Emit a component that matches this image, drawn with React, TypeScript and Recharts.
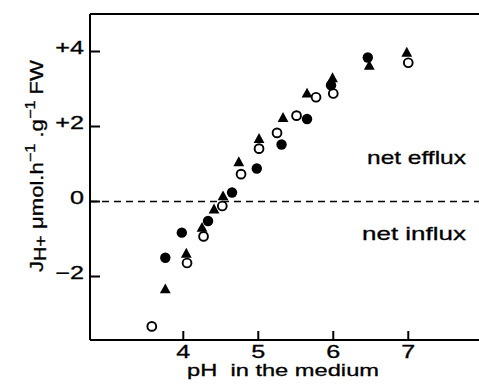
import React from 'react';
import { ScatterChart, Scatter, XAxis, YAxis, ReferenceLine } from 'recharts';

const filledPH = [3.76, 3.98, 4.33, 4.65, 4.98, 5.31, 5.65, 5.97, 6.46];
const filledJ = [-1.5, -0.83, -0.52, 0.24, 0.88, 1.52, 2.2, 3.1, 3.84];

const trianglePH = [3.76, 4.04, 4.25, 4.41, 4.53, 4.74, 5.01, 5.33, 5.65, 5.99, 6.48, 6.98];
const triangleJ = [-2.34, -1.39, -0.7, -0.21, 0.14, 1.05, 1.67, 2.23, 2.88, 3.29, 3.62, 3.97];

const openPH = [3.58, 4.05, 4.27, 4.52, 4.77, 5.01, 5.25, 5.51, 5.77, 6.0, 7.0];
const openJ = [-3.33, -1.64, -0.93, -0.12, 0.73, 1.41, 1.83, 2.29, 2.78, 2.88, 3.7];

const xTicks = [4, 5, 6, 7];
const yTicks = [-2, 0, 2, 4];
const yTickLabels: Record<string, string> = { '-2': '\u22122', '0': '0', '2': '+2', '4': '+4' };

const FONT = '"Liberation Sans", Arial, Helvetica, sans-serif';
const TEXT_STROKE = { stroke: '#000', strokeWidth: 0.3 };

const filledData = filledPH.map((x, i) => ({ x, y: filledJ[i] }));
const triangleData = trianglePH.map((x, i) => ({ x, y: triangleJ[i] }));
const openData = openPH.map((x, i) => ({ x, y: openJ[i] }));

const FilledDot = (p: any) => <circle cx={p.cx} cy={p.cy} r={5.2} fill="#000" />;
const OpenDot = (p: any) => (
  <circle cx={p.cx} cy={p.cy} r={4.4} fill="#fff" stroke="#000" strokeWidth={1.9} />
);
const Triangle = (p: any) => (
  <path d={`M${p.cx},${p.cy - 5.8} L${p.cx + 5.4},${p.cy + 4} L${p.cx - 5.4},${p.cy + 4} Z`} fill="#000" />
);

const XTick = (p: any) => {
  const { x, y, payload } = p;
  return (
    <g>
      <line x1={x} y1={y} x2={x} y2={y - 9} stroke="#000" strokeWidth={2} />
      <text
        transform={`translate(${x},${y + 18}) scale(1.4,1)`}
        textAnchor="middle"
        fontSize={18}
        fontFamily={FONT}
        fill="#000"
        {...TEXT_STROKE}
      >
        {payload.value}
      </text>
    </g>
  );
};

const YTick = (p: any) => {
  const { x, y, payload } = p;
  return (
    <g>
      <line x1={x} y1={y} x2={x + 10} y2={y} stroke="#000" strokeWidth={2} />
      <text
        transform={`translate(${x - 6},${y + 2}) scale(1.4,1)`}
        textAnchor="end"
        fontSize={18}
        fontFamily={FONT}
        fill="#000"
        {...TEXT_STROKE}
      >
        {yTickLabels[String(payload.value)]}
      </text>
    </g>
  );
};

export default function App() {
  return (
    <div style={{ position: 'absolute', left: 0, top: 0, width: 479, height: 387, background: '#fff' }}>
      <ScatterChart width={479} height={387} margin={{ top: 14, right: 0, bottom: 0, left: 0 }}>
        <XAxis
          type="number"
          dataKey="x"
          domain={[2.756, 7.943]}
          ticks={xTicks}
          height={47}
          tickSize={0}
          tickMargin={0}
          tickLine={false}
          axisLine={{ stroke: '#000', strokeWidth: 2 }}
          tick={<XTick />}
          interval={0}
        />
        <YAxis
          type="number"
          dataKey="y"
          domain={[-3.693, 5]}
          ticks={yTicks}
          width={90}
          tickSize={0}
          tickMargin={0}
          tickLine={false}
          axisLine={{ stroke: '#000', strokeWidth: 2 }}
          tick={<YTick />}
          interval={0}
        />
        <ReferenceLine y={5} stroke="#000" strokeWidth={2} />
        <ReferenceLine y={0} stroke="#000" strokeWidth={1.5} strokeDasharray="7 5" />
        <Scatter data={openData} shape={OpenDot} isAnimationActive={false} />
        <Scatter data={triangleData} shape={Triangle} isAnimationActive={false} />
        <Scatter data={filledData} shape={FilledDot} isAnimationActive={false} />
      </ScatterChart>
      <svg width={479} height={387} style={{ position: 'absolute', left: 0, top: 0, pointerEvents: 'none' }}>
        <text x={367} y={164} fontSize={19} fontFamily={FONT} textLength={99} lengthAdjust="spacingAndGlyphs" fill="#000" {...TEXT_STROKE}>
          net efflux
        </text>
        <text x={362} y={240} fontSize={19} fontFamily={FONT} textLength={104} lengthAdjust="spacingAndGlyphs" fill="#000" {...TEXT_STROKE}>
          net influx
        </text>
        <text x={187} y={376} fontSize={17} fontFamily={FONT} textLength={192} lengthAdjust="spacingAndGlyphs" fill="#000" style={{ whiteSpace: 'pre' }} {...TEXT_STROKE}>
          {'pH  in the medium'}
        </text>
        <text
          x={0}
          y={0}
          transform="translate(43,272) rotate(-90)"
          fontSize={19}
          fontFamily={FONT}
          textLength={212}
          lengthAdjust="spacingAndGlyphs"
          fill="#000"
          {...TEXT_STROKE}
        >
          <tspan>J</tspan>
          <tspan dy={3} fontSize={17}>H+</tspan>
          <tspan dy={-3}>{'  \u03bcmol.h'}</tspan>
          <tspan dy={-8} fontSize={14}>{'\u22121'}</tspan>
          <tspan dy={8}>{' .g'}</tspan>
          <tspan dy={-8} fontSize={14}>{'\u22121'}</tspan>
          <tspan dy={8}>{' FW'}</tspan>
        </text>
      </svg>
    </div>
  );
}
